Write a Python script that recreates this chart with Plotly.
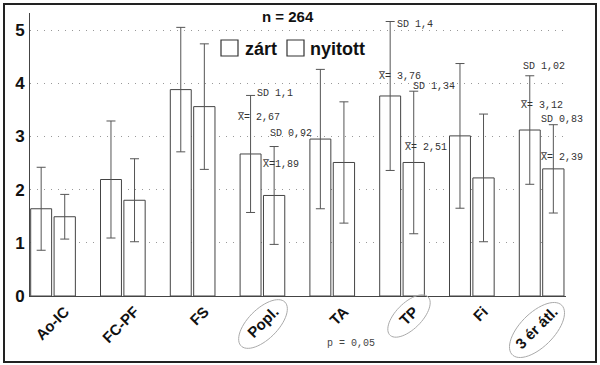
import numpy as np
import plotly.graph_objects as go

categories = ["Ao-IC", "FC-PF", "FS", "Popl.", "TA", "TP", "Fi", "3 ér átl."]
zart_mean = [1.64, 2.19, 3.88, 2.67, 2.95, 3.76, 3.01, 3.12]
zart_sd = [0.78, 1.10, 1.17, 1.10, 1.31, 1.40, 1.36, 1.02]
nyit_mean = [1.49, 1.80, 3.56, 1.89, 2.51, 2.51, 2.22, 2.39]
nyit_sd = [0.42, 0.78, 1.18, 0.92, 1.14, 1.34, 1.20, 0.83]
y_ticks = [0, 1, 2, 3, 4, 5]
circled = ["Popl.", "TP", "3 ér átl."]

XB = "X\u0305"
sd_labels = {("Popl.", 0): "SD 1,1", ("Popl.", 1): "SD 0,92",
             ("TP", 0): "SD 1,4", ("TP", 1): "SD 1,34",
             ("3 ér átl.", 0): "SD 1,02", ("3 ér átl.", 1): "SD 0,83"}
mean_labels = {("Popl.", 0): XB + "= 2,67", ("Popl.", 1): XB + "=1,89",
               ("TP", 0): XB + "= 3,76", ("TP", 1): XB + "= 2,51",
               ("3 ér átl.", 0): XB + "= 3,12", ("3 ér átl.", 1): XB + "= 2,39"}

W, H = 600, 365
L, R, T, B = 30, 34, 13, 69
PW, PH = W - L - R, H - T - B


def px(x):
    return (x - L) / PW


def py(y):
    return (H - B - y) / PH


xs = list(range(len(categories)))
bar_line = dict(color="#444", width=1)
err = dict(color="#555", thickness=1, width=4.5)

fig = go.Figure()
fig.add_trace(go.Bar(x=xs, y=zart_mean, name="zárt", offset=0.01, width=0.30,
                     marker=dict(color="white", line=bar_line),
                     error_y=dict(type="data", array=zart_sd, **err), showlegend=False))
fig.add_trace(go.Bar(x=xs, y=nyit_mean, name="nyitott", offset=0.345, width=0.305,
                     marker=dict(color="white", line=bar_line),
                     error_y=dict(type="data", array=nyit_sd, **err), showlegend=False))

shapes = []
annotations = []

# outer frame
shapes.append(dict(type="rect", xref="paper", yref="paper",
                   x0=px(4), x1=px(596), y0=py(362), y1=py(4),
                   line=dict(color="#222", width=2)))

# legend squares and texts
for sx, txt, tx in [(221, "zárt", 243), (287, "nyitott", 308)]:
    shapes.append(dict(type="rect", xref="paper", yref="paper",
                       x0=px(sx), x1=px(sx + 17), y0=py(56), y1=py(40),
                       line=dict(color="#333", width=1.2), fillcolor="white"))
    annotations.append(dict(xref="paper", yref="paper", x=px(tx), y=py(49),
                            text=txt, showarrow=False, xanchor="left", yanchor="middle",
                            font=dict(family="Liberation Sans, Arial", size=18,
                                      color="#111", weight="bold")))

annotations.append(dict(xref="paper", yref="paper", x=px(288), y=py(17), text="n = 264",
                        showarrow=False, xanchor="center", yanchor="middle",
                        font=dict(family="Liberation Sans, Arial", size=15,
                                  color="#111", weight="bold")))
annotations.append(dict(xref="paper", yref="paper", x=px(325), y=py(343), text="p = 0,05",
                        showarrow=False, xanchor="left", yanchor="middle",
                        font=dict(family="Liberation Mono, monospace", size=10, color="#444")))

mono = dict(family="Liberation Mono, DejaVu Sans Mono, monospace", size=10, color="#333")
sd_pos = {("Popl.", 0): (256, 93), ("Popl.", 1): (269, 133),
          ("TP", 0): (396, 25), ("TP", 1): (412, 87),
          ("3 ér átl.", 0): (522, 66), ("3 ér átl.", 1): (540, 119)}
mean_pos = {("Popl.", 0): (237, 118), ("Popl.", 1): (262, 164),
            ("TP", 0): (378, 76), ("TP", 1): (404, 147),
            ("3 ér átl.", 0): (520, 105), ("3 ér átl.", 1): (540, 157)}
for key, txt in sd_labels.items():
    x, y = sd_pos[key]
    annotations.append(dict(xref="paper", yref="paper", x=px(x), y=py(y), text=txt,
                            showarrow=False, xanchor="left", yanchor="middle", font=mono,
                            borderpad=0))
for key, txt in mean_labels.items():
    x, y = mean_pos[key]
    annotations.append(dict(xref="paper", yref="paper", x=px(x), y=py(y), text=txt,
                            showarrow=False, xanchor="left", yanchor="middle", font=mono,
                            borderpad=0))

# ellipses around circled labels (tilted 45 deg)
ell = {"Popl.": (263, 324, 31, 15), "TP": (409, 316, 27, 13), "3 ér átl.": (537, 330, 35, 17)}
t = np.linspace(0, 2 * np.pi, 60)
for name in circled:
    cx, cy, a, b = ell[name]
    c, s = np.cos(np.pi / 4), np.sin(np.pi / 4)
    ex = cx + a * np.cos(t) * c + b * np.sin(t) * s
    ey = cy - a * np.cos(t) * s + b * np.sin(t) * c
    path = "M " + " L ".join(f"{px(u):.5f},{py(v):.5f}" for u, v in zip(ex, ey)) + " Z"
    shapes.append(dict(type="path", xref="paper", yref="paper", path=path,
                       line=dict(color="#aaa", width=1)))

fig.update_layout(
    width=W, height=H,
    margin=dict(l=L, r=R, t=T, b=B, autoexpand=False),
    paper_bgcolor="white", plot_bgcolor="white",
    barmode="overlay",
    shapes=shapes, annotations=annotations,
    showlegend=False,
    xaxis=dict(range=[0, PW / 69.8], tickvals=[i + 0.5 for i in xs], ticktext=categories,
               tickangle=-45, showgrid=False, zeroline=False, showline=True,
               linecolor="#444", linewidth=1, ticks="",
               tickfont=dict(family="Liberation Sans, Arial", size=15, color="#111",
                             weight="bold")),
    yaxis=dict(range=[0, 5.32], tickvals=y_ticks, showgrid=True, gridcolor="#999",
               griddash="1px,6px", gridwidth=1, zeroline=False, showline=True,
               linecolor="#444", linewidth=1, ticks="", ticklabelstandoff=1,
               tickfont=dict(family="Liberation Sans, Arial", size=17, color="#111",
                             weight="bold")),
)

fig.write_html("out.html", config={"displayModeBar": False},
               post_script="document.body.style.margin='0';document.body.style.padding='0';")
